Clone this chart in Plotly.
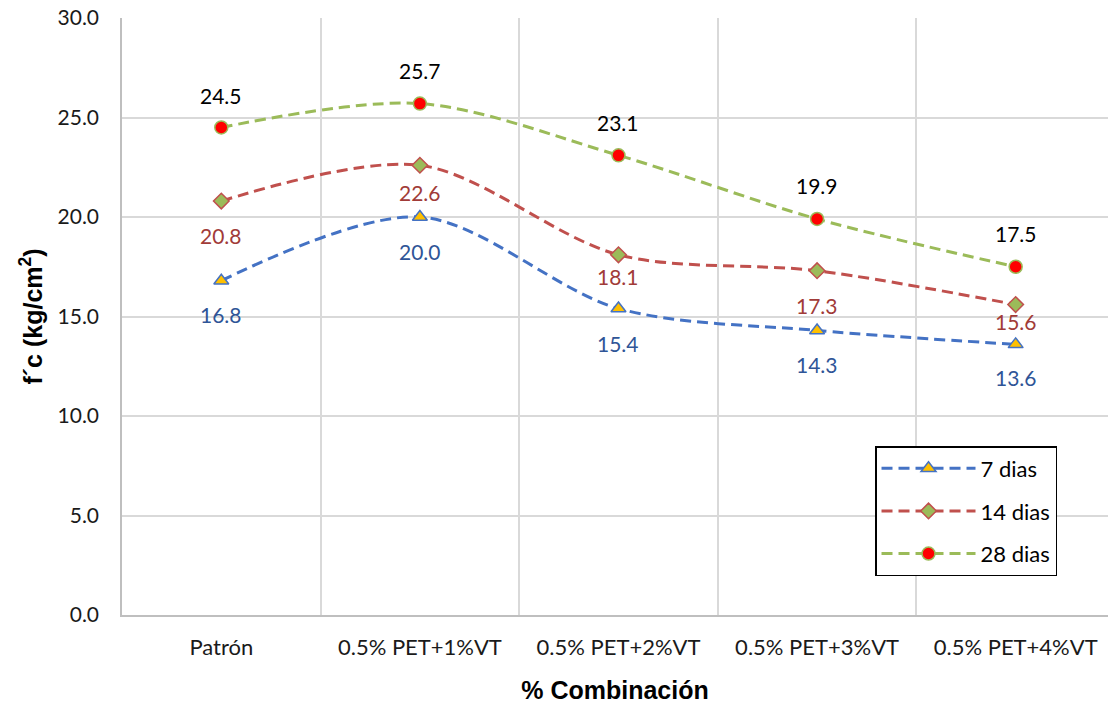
import plotly.graph_objects as go

categories = ["Patrón", "0.5% PET+1%VT", "0.5% PET+2%VT", "0.5% PET+3%VT", "0.5% PET+4%VT"]
dias7 = [16.8, 20.0, 15.4, 14.3, 13.6]
dias14 = [20.8, 22.6, 18.1, 17.3, 15.6]
dias28 = [24.5, 25.7, 23.1, 19.9, 17.5]
y_ticks = [0, 5, 10, 15, 20, 25, 30]

# label pixel offsets (style only)
off7 = [-34, -34, -35, -34, -33]
off14 = [-34, -27, -22, -35, -17]
off28 = [32, 33, 33, 33, 33]

FONT = "Lato"

series = [
    dict(name="7 dias", y=dias7, line="#4472C4", symbol="triangle-up", fill="#FFC000",
         outline="#4472C4", size=13, lab="#2F5597", offs=off7),
    dict(name="14 dias", y=dias14, line="#C0504D", symbol="diamond", fill="#9BBB59",
         outline="#C0504D", size=12, lab="#A13B38", offs=off14),
    dict(name="28 dias", y=dias28, line="#9BBB59", symbol="circle", fill="#FF0000",
         outline="#9BBB59", size=13, lab="#000000", offs=off28),
]

fig = go.Figure()
for s in series:
    fig.add_trace(go.Scatter(
        x=categories, y=s["y"], name=s["name"], mode="lines+markers",
        line=dict(color=s["line"], width=3, dash="11px,6px", shape="spline", smoothing=0.9),
        marker=dict(symbol=s["symbol"], size=s["size"], color=s["fill"],
                    line=dict(color=s["outline"], width=1.5)),
        legendgroup=s["name"],
    ))
    for c, v, o in zip(categories, s["y"], s["offs"]):
        fig.add_annotation(x=c, y=v, text=f"{v:.1f}", showarrow=False,
                           yshift=o, font=dict(family=FONT, size=21, color=s["lab"]))

fig.update_layout(
    width=1108, height=709,
    margin=dict(l=122, r=0, t=18, b=94),
    plot_bgcolor="white", paper_bgcolor="white",
    font=dict(family=FONT, size=21, color="#1a1a1a"),
    showlegend=True,
    legend=dict(
        x=0.7637, y=0.283, xanchor="left", yanchor="top",
        bordercolor="black", borderwidth=1.5, bgcolor="white",
        font=dict(family=FONT, size=22, color="black"),
        traceorder="grouped", tracegroupgap=11, itemwidth=94,
    ),
    xaxis=dict(
        type="category", range=[-0.5, 4.465], tickson="boundaries",
        showgrid=True, gridcolor="#D9D9D9", gridwidth=1.5,
        showline=True, linecolor="#BFBFBF", linewidth=1.5,
        ticks="", ticklabelstandoff=12,
        tickfont=dict(family=FONT, size=22, color="#1a1a1a"),
        title=dict(text="<b>% Combinación</b>", standoff=22,
                   font=dict(family="Arial", size=25, color="black")),
    ),
    yaxis=dict(
        range=[0, 30], tickvals=y_ticks, tickformat=".1f",
        showgrid=True, gridcolor="#D9D9D9", gridwidth=1.5,
        showline=True, linecolor="#BFBFBF", linewidth=1.5,
        zeroline=False, ticks="", ticklabelstandoff=17,
        tickfont=dict(family=FONT, size=21, color="#1a1a1a"),
        title=dict(text="<b>f´c (kg/cm<sup>2</sup>)</b>", standoff=8,
                   font=dict(family="Arial", size=25, color="black")),
    ),
)

fig.write_html("out.html")
